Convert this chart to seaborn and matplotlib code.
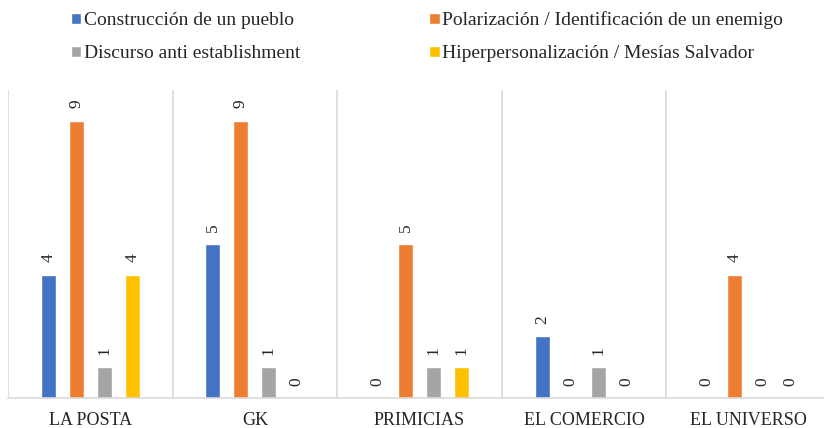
import matplotlib
matplotlib.use("Agg")
import matplotlib.pyplot as plt
import seaborn as sns
import pandas as pd
import numpy as np

categories = ["LA POSTA", "GK", "PRIMICIAS", "EL COMERCIO", "EL UNIVERSO"]
series_names = [
    "Construcción de un pueblo",
    "Polarización / Identificación de un enemigo",
    "Discurso anti establishment",
    "Hiperpersonalización / Mesías Salvador",
]
construccion = [4, 5, 0, 2, 0]
polarizacion = [9, 9, 5, 0, 4]
anti_establishment = [1, 1, 1, 1, 0]
hiperpersonalizacion = [4, 0, 1, 0, 0]
colors = ["#4472C4", "#ED7D31", "#A5A5A5", "#FFC000"]

values = [construccion, polarizacion, anti_establishment, hiperpersonalizacion]
rows = []
for name, vals in zip(series_names, values):
    for cat, v in zip(categories, vals):
        rows.append({"medio": cat, "serie": name, "valor": v})
df = pd.DataFrame(rows)

sns.set_theme(style="white")
plt.rcParams["font.family"] = ["Liberation Serif", "DejaVu Serif"]

fig = plt.figure(figsize=(8.24, 4.28), dpi=100)
ax = fig.add_axes([8 / 824, 1 - 398 / 428, 823 / 824, (398 - 90) / 428])

sns.barplot(data=df, x="medio", y="valor", hue="serie", order=categories,
            hue_order=series_names, palette=colors, width=0.68, gap=0.46,
            ax=ax, legend=True, errorbar=None, saturation=1)

for cont in ax.containers:
    ax.bar_label(cont, rotation=90, padding=9, fontsize=12.5, color="#262626")

ax.set_xlim(-0.5, 4.5)
ax.set_ylim(0, 10)
ax.set_xlabel("")
ax.set_ylabel("")
ax.set_yticks([])
ax.set_xticks(range(len(categories)))
ax.set_xticklabels(categories, fontsize=13, color="#262626")
ax.set_xticks(np.arange(-0.5, 5.0, 1.0), minor=True)
ax.tick_params(axis="x", which="both", length=0, pad=10)
ax.grid(False)
ax.grid(True, which="minor", axis="x", color="#D9D9D9", linewidth=1.2)
for s in ["top", "right", "left"]:
    ax.spines[s].set_visible(False)
ax.spines["bottom"].set_color("#D9D9D9")
ax.spines["bottom"].set_linewidth(1.2)

handles, labels = ax.get_legend_handles_labels()
ax.get_legend().remove()
order = [0, 2, 1, 3]
fig.legend([handles[i] for i in order], [labels[i] for i in order], ncol=2,
           loc="upper left", bbox_to_anchor=(53 / 824, 1.014), frameon=False,
           fontsize=14, handlelength=0.55, handleheight=0.55,
           handletextpad=0.15, columnspacing=6.6, labelspacing=0.82,
           labelcolor="#262626")

fig.savefig("out.png", dpi=100)
